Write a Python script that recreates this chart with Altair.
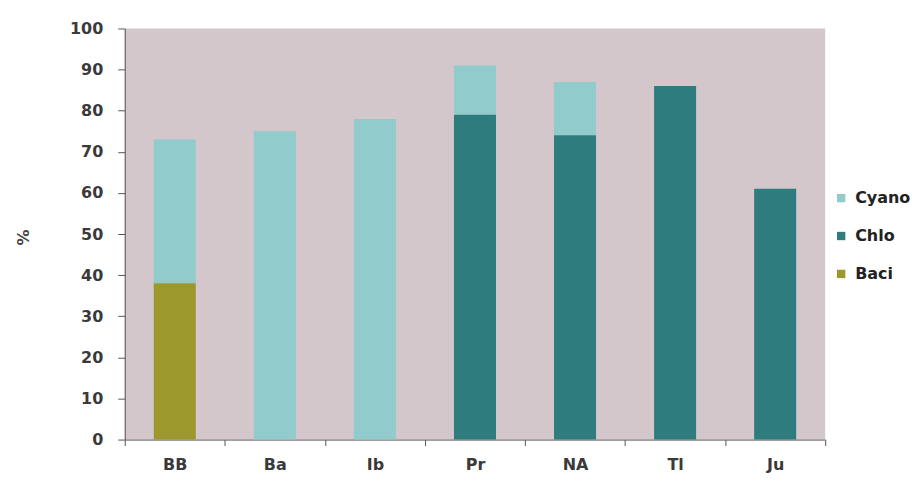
import altair as alt
import pandas as pd

sites = ["BB", "Ba", "Ib", "Pr", "NA", "Tl", "Ju"]
cyan = [35, 75, 78, 12, 13, 0, 0]
chlo = [0, 0, 0, 79, 74, 86, 61]
baci = [38, 0, 0, 0, 0, 0, 0]

groups = ["Cyan", "Chlo", "Baci"]
legend_labels = ["Cyano", "Chlo", "Baci"]
colors = ["#92cbcc", "#2f7c7e", "#9c982c"]
stack_order = {"Baci": 0, "Chlo": 1, "Cyan": 2}

rows = []
for i, s in enumerate(sites):
    for g, vals in zip(groups, [cyan, chlo, baci]):
        rows.append({"site": s, "group": g, "value": vals[i], "ord": stack_order[g]})
df = pd.DataFrame(rows)
df["label"] = df["group"].map(dict(zip(groups, legend_labels)))

font = "DejaVu Sans"

chart = alt.Chart(df).mark_bar(width=alt.RelativeBandSize(0.42)).encode(
    x=alt.X("site:N", sort=sites,
            scale=alt.Scale(paddingInner=0, paddingOuter=0),
            axis=alt.Axis(title=None, labelAngle=0, tickBand="extent",
                          labelFontSize=16, labelFontWeight="bold", labelPadding=11, tickSize=6,
                          labelColor="#3a3a3a", domainColor="#555555",
                          tickColor="#555555", labelFont=font)),
    y=alt.Y("sum(value):Q", stack="zero",
            scale=alt.Scale(domain=[0, 100]),
            axis=alt.Axis(title="%", values=list(range(0, 101, 10)),
                          labelFontSize=16, labelFontWeight="bold", labelPadding=15, tickSize=7,
                          labelColor="#3a3a3a", domainColor="#555555",
                          tickColor="#555555", grid=False, labelFont=font,
                          titleFont=font, titleFontSize=16, titleColor="#444444",
                          titleFontWeight="bold", titleX=-93, titleY=209)),
    color=alt.Color("label:N", sort=legend_labels,
                    scale=alt.Scale(domain=legend_labels, range=colors),
                    legend=alt.Legend(title=None, orient="none", legendX=710, legendY=162,
                                      symbolType="square", symbolSize=70,
                                      symbolStrokeWidth=0, labelFontSize=16,
                                      labelFontWeight="bold",
                                      labelFont=font, labelColor="#222222",
                                      rowPadding=22, labelOffset=6)),
    order=alt.Order("ord:Q"),
).properties(
    width=702, height=412,
    autosize=alt.AutoSizeParams(type="none"),
    padding={"left": 117, "top": 20, "right": 88, "bottom": 40},
).configure_view(fill="#d3c7cc", stroke=None)

chart.save("out.html", embed_options={"renderer": "svg", "actions": False})
